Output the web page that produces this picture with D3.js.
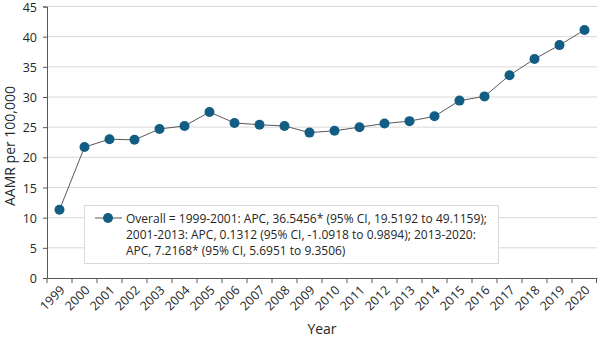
<!DOCTYPE html>
<html>
<head>
<meta charset="utf-8">
<script src="https://cdn.jsdelivr.net/npm/d3@7"></script>
<style>
  body { margin:0; background:#fff; }
  text { font-family: "Open Sans", "Liberation Sans", sans-serif; fill:#262626; }
</style>
</head>
<body>
<div id="chart"></div>
<script>
// data
var years = ["1999","2000","2001","2002","2003","2004","2005","2006","2007","2008","2009",
             "2010","2011","2012","2013","2014","2015","2016","2017","2018","2019","2020"];
var aamr = [11.3, 21.7, 23.0, 22.9, 24.7, 25.2, 27.5, 25.7, 25.4, 25.2, 24.1,
            24.4, 25.0, 25.6, 26.0, 26.8, 29.4, 30.1, 33.6, 36.3, 38.6, 41.1];
var yTicks = [0, 5, 10, 15, 20, 25, 30, 35, 40, 45];
var legendLines = [
  "Overall = 1999-2001: APC, 36.5456* (95% CI, 19.5192 to 49.1159);",
  "2001-2013: APC, 0.1312 (95% CI, -1.0918 to 0.9894); 2013-2020:",
  "APC, 7.2168* (95% CI, 5.6951 to 9.3506)"
];

var W = 600, H = 338;
var margin = { left:47, right:3, top:6.5, bottom:60 };
var w = W - margin.left - margin.right;
var h = H - margin.top - margin.bottom;

var svg = d3.select("#chart").append("svg")
    .attr("width", W)
    .attr("height", H);

var g = svg.append("g")
    .attr("transform", "translate(" + margin.left + "," + margin.top + ")");

var x = d3.scaleBand().domain(years).range([0, w]);
var y = d3.scaleLinear().domain([0, 45]).range([h, 0]);

// gridlines
g.selectAll(".grid")
    .data(yTicks.filter(function(d){ return d > 0; }))
    .enter().append("line")
    .attr("class","grid")
    .attr("x1", 0).attr("x2", w)
    .attr("y1", function(d){ return y(d); })
    .attr("y2", function(d){ return y(d); })
    .attr("stroke", "#d9d9d9")
    .attr("stroke-width", 1);

// y axis
var yAxis = g.append("g")
    .call(d3.axisLeft(y).tickValues(yTicks).tickSize(4).tickPadding(6));
yAxis.select(".domain").attr("stroke", "#595959");
yAxis.selectAll(".tick line").attr("stroke", "#595959");
yAxis.selectAll("text").attr("font-size", 12.5).attr("dy", "0.36em").style("fill", "#262626")
    .style("font-family", "'Open Sans', sans-serif");

// x axis, ticks sit between the categories
var xAxis = g.append("g")
    .attr("transform", "translate(0," + h + ")")
    .call(d3.axisBottom(x).tickSize(0).tickPadding(0));
xAxis.select(".domain").attr("stroke", "#595959");
xAxis.selectAll(".tick line").remove();
xAxis.selectAll(".tick").append("line")
    .attr("x1", -x.bandwidth()/2).attr("x2", -x.bandwidth()/2)
    .attr("y1", 0).attr("y2", 5)
    .attr("stroke", "#595959");
xAxis.append("line")
    .attr("x1", w - 0.5).attr("x2", w - 0.5)
    .attr("y1", 0).attr("y2", 5)
    .attr("stroke", "#595959");
xAxis.selectAll(".tick text")
    .attr("font-size", 12.5)
    .style("fill", "#262626")
    .style("font-family", "'Open Sans', sans-serif")
    .attr("text-anchor", "end")
    .attr("dy", 0)
    .attr("transform", "translate(6,13) rotate(-45)");

// line + markers
var line = d3.line()
    .x(function(d, i){ return x(years[i]) + x.bandwidth()/2; })
    .y(function(d){ return y(d); });

g.append("path")
    .datum(aamr)
    .attr("d", line)
    .attr("fill", "none")
    .attr("stroke", "#595959")
    .attr("stroke-width", 1);

g.selectAll(".dot")
    .data(aamr)
    .enter().append("circle")
    .attr("class","dot")
    .attr("cx", function(d, i){ return x(years[i]) + x.bandwidth()/2; })
    .attr("cy", function(d){ return y(d); })
    .attr("r", 5)
    .attr("fill", "#125d84");

// axis titles
svg.append("text")
    .attr("x", margin.left + w/2)
    .attr("y", 334)
    .attr("text-anchor", "middle")
    .attr("font-size", 14)
    .text("Year");

svg.append("text")
    .attr("transform", "rotate(-90)")
    .attr("x", -146)
    .attr("y", 15)
    .attr("text-anchor", "middle")
    .attr("font-size", 14)
    .text("AAMR per 100,000");

// legend
var legend = svg.append("g");
legend.append("rect")
    .attr("x", 84.5).attr("y", 205.5)
    .attr("width", 414).attr("height", 58)
    .attr("fill", "#fff")
    .attr("stroke", "#d9d9d9");
legend.append("line")
    .attr("x1", 95).attr("x2", 122)
    .attr("y1", 218).attr("y2", 218)
    .attr("stroke", "#595959");
legend.append("circle")
    .attr("cx", 108).attr("cy", 218).attr("r", 5)
    .attr("fill", "#125d84");
legend.selectAll(".lt")
    .data(legendLines)
    .enter().append("text")
    .attr("class", "lt")
    .attr("x", 126)
    .attr("y", function(d, i){ return 222.5 + i*16; })
    .attr("font-size", 12)
    .text(function(d){ return d; });
</script>
</body>
</html>
